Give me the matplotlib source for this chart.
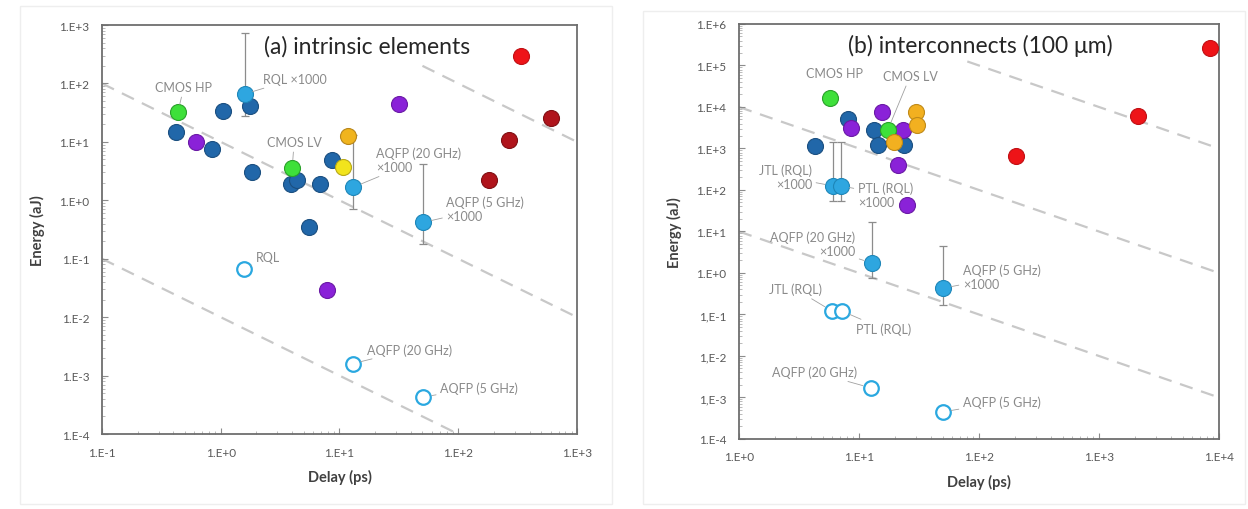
import numpy as np
import matplotlib
matplotlib.use('Agg')
import matplotlib.pyplot as plt
from matplotlib.ticker import LogLocator, FuncFormatter, NullFormatter
from matplotlib.patches import Rectangle

plt.rcParams['font.family'] = ['Lato', 'DejaVu Sans']

# ---- (a) intrinsic elements ----
a_cmos_blue_x = [0.42, 0.84, 1.04, 1.75, 1.82, 3.9, 4.4, 6.9, 8.6, 5.5]
a_cmos_blue_y = [14.7, 7.5, 34, 41, 3.0, 1.9, 2.2, 1.9, 4.9, 0.35]
a_purple_x = [0.62, 7.8, 32]
a_purple_y = [9.9, 0.029, 44]
a_green_x = [0.435, 4.0]
a_green_y = [32, 3.56]
a_yellow_x = [10.8]
a_yellow_y = [3.7]
a_gold_x = [11.9]
a_gold_y = [12.6]
a_red_x = [339]
a_red_y = [295]
a_darkred_x = [603, 270, 182]
a_darkred_y = [25.6, 10.7, 2.2]
a_sfq_x = [1.59, 13.1, 50.8]          # x1000 scaled, filled
a_sfq_y = [66, 1.68, 0.42]
a_sfq_lo = [28, 0.71, 0.18]
a_sfq_hi = [730, 13, 4.2]
a_open_x = [1.56, 12.9, 51]
a_open_y = [0.066, 0.0016, 4.3e-4]

# ---- (b) interconnects (100 um) ----
b_cmos_blue_x = [8.1, 4.3, 13.3, 14.4, 23.7]
b_cmos_blue_y = [5150, 1150, 2800, 1210, 1210]
b_purple_x = [8.6, 15.6, 23.3, 21.1, 25.1]
b_purple_y = [3120, 7600, 2800, 400, 44]
b_green_x = [5.7, 17.4]
b_green_y = [16500, 2800]
b_gold_x = [19.6, 29.9, 30.4]
b_gold_y = [1440, 7600, 3680]
b_red_x = [204, 2110, 8400]
b_red_y = [660, 6000, 2.6e5]
b_sfq_x = [6.1, 7.1, 12.8, 50]
b_sfq_y = [125, 125, 1.74, 0.43]
b_sfq_lo = [54, 54, 0.76, 0.17]
b_sfq_hi = [1440, 1440, 17, 4.5]
b_open_x = [5.96, 7.2, 12.6, 50]
b_open_y = [0.121, 0.121, 0.0017, 4.5e-4]

# energy-delay product guide lines (aJ*ps)
a_edp = [0.01, 10, 1e4]
a_edp_start = [0.1, 0.1, 50]
b_edp = [10, 1e4, 1e7]
b_edp_start = [1, 1, 80]

TXT = '#8a8a8a'
LEAD = '#a0a0a0'
MS = 11.5


def fmt_tick(v, pos, comma=False):
    e = int(round(np.log10(v)))
    sep = ',' if (comma and -3 <= e <= -1) else '.'
    return f'1{sep}E{e:+d}'


def style_axes(ax, xlim, ylim, comma=False):
    ax.set_xscale('log')
    ax.set_yscale('log')
    ax.set_xlim(*xlim)
    ax.set_ylim(*ylim)
    for s in ax.spines.values():
        s.set_color('#6e6e6e')
        s.set_linewidth(1.3)
    ax.xaxis.set_major_locator(LogLocator(base=10, numticks=20))
    ax.yaxis.set_major_locator(LogLocator(base=10, numticks=20))
    ax.xaxis.set_minor_locator(LogLocator(base=10, subs=np.arange(2, 10), numticks=20))
    ax.yaxis.set_minor_locator(LogLocator(base=10, subs=np.arange(2, 10), numticks=20))
    ax.xaxis.set_minor_formatter(NullFormatter())
    ax.yaxis.set_minor_formatter(NullFormatter())
    ax.xaxis.set_major_formatter(FuncFormatter(lambda v, p: fmt_tick(v, p)))
    ax.yaxis.set_major_formatter(FuncFormatter(lambda v, p: fmt_tick(v, p, comma)))
    ax.tick_params(which='major', direction='in', length=4, width=0.8, color='#8c8c8c',
                   labelsize=8.5, labelcolor='#595959', pad=9)
    ax.tick_params(which='minor', direction='in', length=2.5, width=0.6, color='#b0b0b0')
    ax.set_xlabel('Delay (ps)', fontsize=10.5, fontweight='bold', color='#404040', labelpad=8)
    ax.set_ylabel('Energy (aJ)', fontsize=10.5, fontweight='bold', color='#404040', labelpad=10)


def edp_lines(ax, edps, starts, xmax):
    for c, x0 in zip(edps, starts):
        xs = np.array([x0, xmax])
        ax.plot(xs, c / xs, ls=(0, (6, 4)), color='#c8c8c8', lw=1.6, zorder=1)


def dots(ax, x, y, color, edge):
    ax.plot(x, y, 'o', ms=MS, mfc=color, mec=edge, mew=0.8, ls='none', zorder=3)


def label(ax, text, xy, xytext, ha='left'):
    ax.annotate(text, xy=xy, xytext=xytext, fontsize=9, color=TXT, ha=ha, va='center',
                arrowprops=dict(arrowstyle='-', color=LEAD, lw=0.6, shrinkA=1, shrinkB=6),
                zorder=4)


fig = plt.figure(figsize=(12.48, 5.10), dpi=100)
fig.add_artist(Rectangle((20 / 1248, 5 / 510), 592 / 1248, 498 / 510, transform=fig.transFigure,
                         fill=False, ec='#eeeeee', lw=1))
fig.add_artist(Rectangle((643 / 1248, 5 / 510), 602 / 1248, 493 / 510, transform=fig.transFigure,
                         fill=False, ec='#eeeeee', lw=1))

# ---------------- panel (a) ----------------
ax1 = fig.add_axes([0.0817, 0.147, 0.3806, 0.802])
style_axes(ax1, (0.1, 1000), (1e-4, 1000))
edp_lines(ax1, a_edp, a_edp_start, 1000)

sy = np.array(a_sfq_y)
ax1.errorbar(a_sfq_x, a_sfq_y, yerr=[sy - np.array(a_sfq_lo), np.array(a_sfq_hi) - sy],
             fmt='none', ecolor='#8c8c8c', elinewidth=0.9, capsize=3, capthick=0.9, zorder=2)
dots(ax1, a_cmos_blue_x, a_cmos_blue_y, '#2167a9', '#1b4f80')
dots(ax1, a_purple_x, a_purple_y, '#8a22d8', '#6a1aa5')
dots(ax1, a_green_x, a_green_y, '#3ee03a', '#2aa02a')
dots(ax1, a_yellow_x, a_yellow_y, '#f2e41c', '#b8a818')
dots(ax1, a_gold_x, a_gold_y, '#f0b41e', '#b8861a')
dots(ax1, a_red_x, a_red_y, '#ee1418', '#c01014')
dots(ax1, a_darkred_x, a_darkred_y, '#b0141c', '#801014')
dots(ax1, a_sfq_x, a_sfq_y, '#2ea6e0', '#1e86b8')
ax1.plot(a_open_x, a_open_y, 'o', ms=MS - 1, mfc='white', mec='#2aa8e0', mew=1.6, ls='none', zorder=3)

ax1.text(2.3, 440, '(a) intrinsic elements', fontsize=16.5, color='#262626', va='center')
label(ax1, 'CMOS HP', (a_green_x[0], a_green_y[0]), (0.49, 87), ha='center')
label(ax1, 'RQL ×1000', (a_sfq_x[0], a_sfq_y[0]), (2.25, 119))
label(ax1, 'CMOS LV', (a_green_x[1], a_green_y[1]), (2.44, 10))
label(ax1, 'AQFP (20 GHz)\n×1000', (a_sfq_x[1], a_sfq_y[1]), (20.5, 4.9))
label(ax1, 'AQFP (5 GHz)\n×1000', (a_sfq_x[2], a_sfq_y[2]), (79.6, 0.73))
label(ax1, 'RQL', (a_open_x[0], a_open_y[0]), (1.97, 0.107))
label(ax1, 'AQFP (20 GHz)', (a_open_x[1], a_open_y[1]), (17.2, 0.0028))
label(ax1, 'AQFP (5 GHz)', (a_open_x[2], a_open_y[2]), (70.6, 6.3e-4))

# ---------------- panel (b) ----------------
ax2 = fig.add_axes([0.5921, 0.1373, 0.3846, 0.8137])
style_axes(ax2, (1, 1e4), (1e-4, 1e6), comma=True)
edp_lines(ax2, b_edp, b_edp_start, 1e4)

sy = np.array(b_sfq_y)
ax2.errorbar(b_sfq_x, b_sfq_y, yerr=[sy - np.array(b_sfq_lo), np.array(b_sfq_hi) - sy],
             fmt='none', ecolor='#8c8c8c', elinewidth=0.9, capsize=3, capthick=0.9, zorder=2)
dots(ax2, b_cmos_blue_x, b_cmos_blue_y, '#2167a9', '#1b4f80')
dots(ax2, b_purple_x, b_purple_y, '#8a22d8', '#6a1aa5')
dots(ax2, b_green_x, b_green_y, '#3ee03a', '#2aa02a')
dots(ax2, b_gold_x, b_gold_y, '#f2b020', '#c08a18')
dots(ax2, b_red_x, b_red_y, '#ee1418', '#c01014')
dots(ax2, b_sfq_x, b_sfq_y, '#2ea6e0', '#1e86b8')
ax2.plot(b_open_x, b_open_y, 'o', ms=MS - 1, mfc='white', mec='#2aa8e0', mew=1.6, ls='none', zorder=3)

ax2.text(8.1, 3.1e5, '(b) interconnects (100 μm)', fontsize=16.5, color='#262626', va='center')
ax2.text(6.2, 6.6e4, 'CMOS HP', fontsize=9, color=TXT, ha='center', va='center')
label(ax2, 'CMOS LV', (b_green_x[1], b_green_y[1]), (15.8, 5.6e4))
label(ax2, 'JTL (RQL)\n×1000', (b_sfq_x[0], b_sfq_y[0]), (4.06, 206), ha='right')
label(ax2, 'PTL (RQL)\n×1000', (b_sfq_x[1], b_sfq_y[1]), (9.8, 79))
label(ax2, 'AQFP (20 GHz)\n×1000', (b_sfq_x[2], b_sfq_y[2]), (9.3, 5.0), ha='right')
label(ax2, 'AQFP (5 GHz)\n×1000', (b_sfq_x[3], b_sfq_y[3]), (73.6, 0.80))
label(ax2, 'JTL (RQL)', (b_open_x[0], b_open_y[0]), (1.78, 0.41))
label(ax2, 'PTL (RQL)', (b_open_x[1], b_open_y[1]), (9.4, 0.045))
label(ax2, 'AQFP (20 GHz)', (b_open_x[2], b_open_y[2]), (9.6, 0.0041), ha='right')
label(ax2, 'AQFP (5 GHz)', (b_open_x[3], b_open_y[3]), (73.6, 7.8e-4))

fig.savefig('out.png', dpi=100)
